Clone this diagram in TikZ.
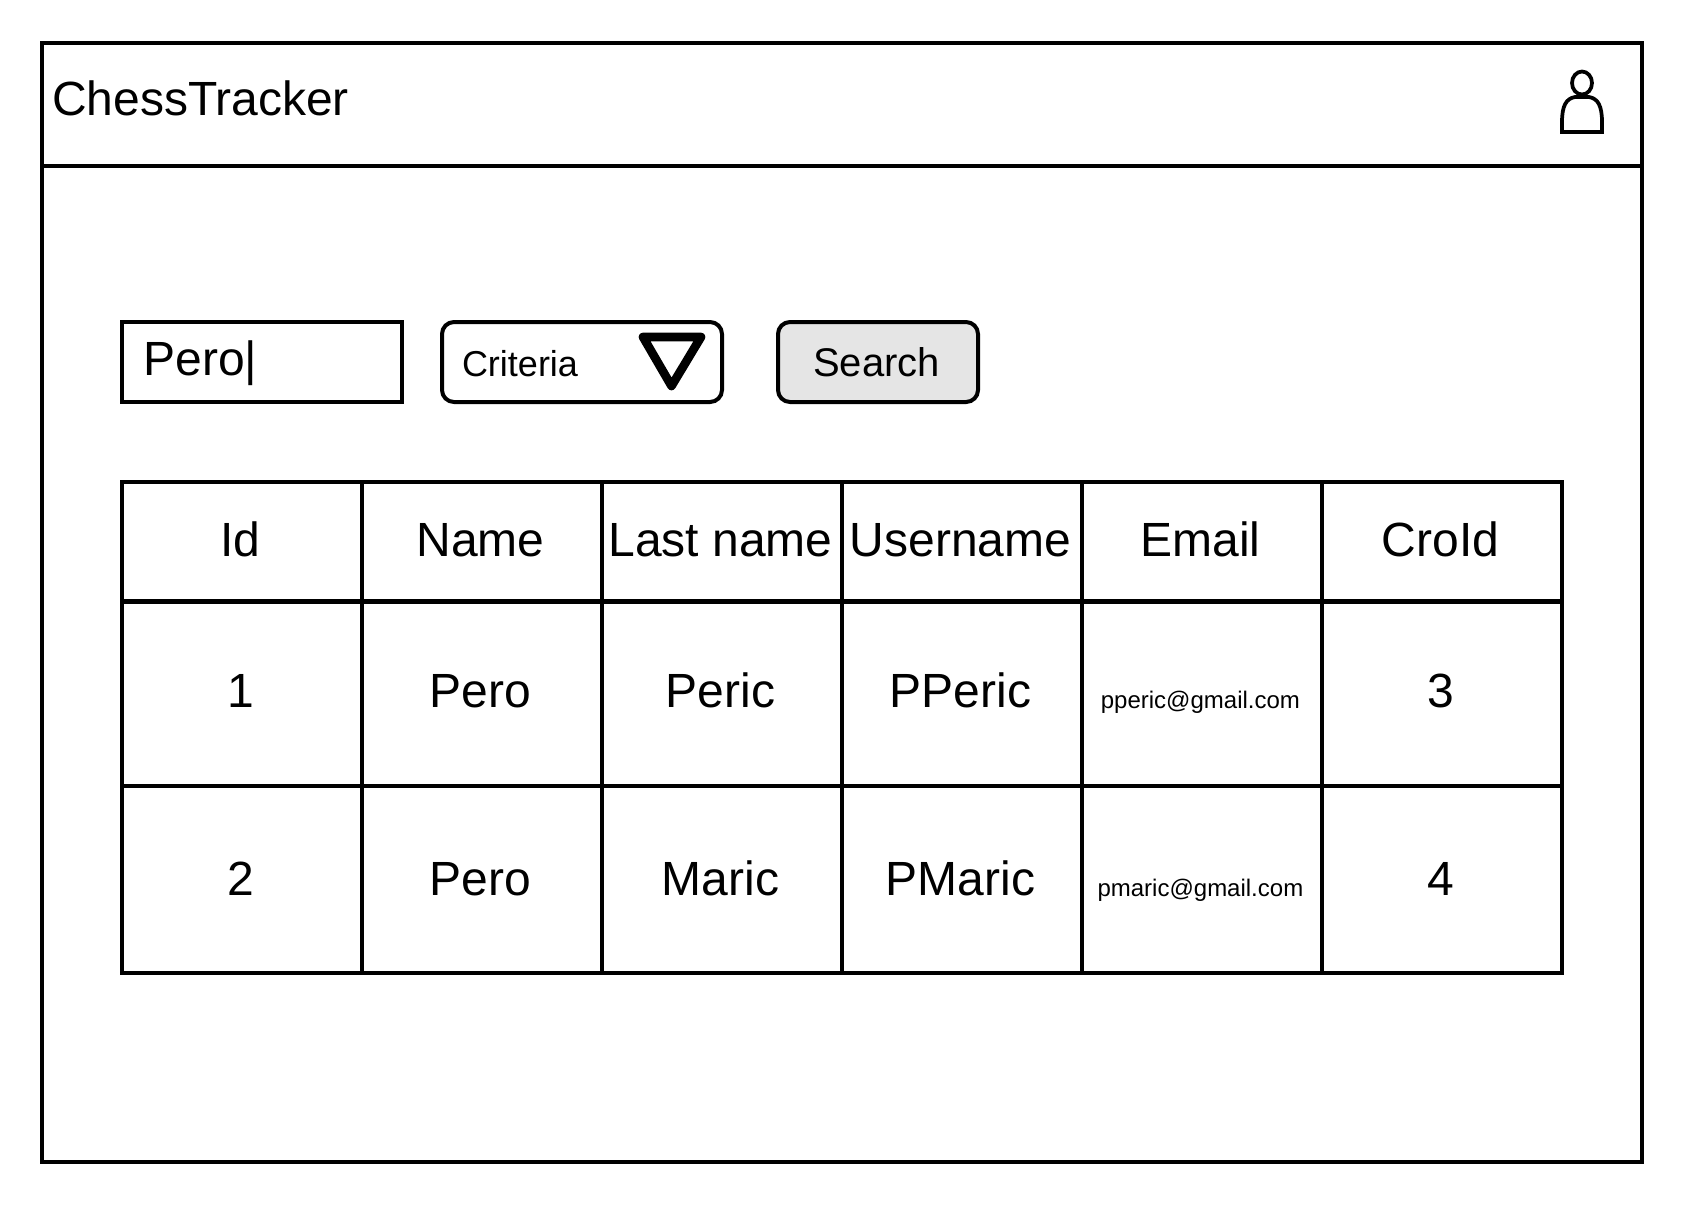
\documentclass[tikz,border=0pt]{standalone}
\usepackage{fontspec}
\setmainfont{Liberation Sans}
\newcommand{\fbig}{\fontsize{36}{42}\selectfont}
\newcommand{\fcrit}{\fontsize{27}{32}\selectfont}
\newcommand{\fsearch}{\fontsize{30}{36}\selectfont}
\newcommand{\fmail}{\fontsize{18}{22}\selectfont}
\tikzset{
  box/.style={draw=black,line width=3pt,inner sep=0pt,outer sep=0pt,anchor=north west},
  rbox/.style={box,rounded corners=9pt},
  label/.style={inner sep=0pt,outer sep=0pt,anchor=base,text=black},
  labelw/.style={label,anchor=base west},
  cell/.style={box,minimum width=180pt},
  head/.style={cell,minimum height=89.6pt},
  rowa/.style={cell,minimum height=138pt},
  rowb/.style={cell,minimum height=140.5pt},
}
\begin{document}
\begin{tikzpicture}[x=0.75pt,y=-0.75pt]
\useasboundingbox (0,0) rectangle (1688,1204);
\fill[white] (0,0) rectangle (1688,1204);
% frame
\node[box,minimum width=1200pt,minimum height=839.25pt] (frame) at (42,43) {};
\node[box,minimum width=1200pt,minimum height=92.6pt] (header) at (42,43) {};
\node[labelw] (title) at (52,115.5) {\fbig ChessTracker};
% user icon
\draw[line width=2.8pt] (1582,83) ellipse [x radius=10,y radius=11.5];
\draw[line width=2.8pt,line join=miter] (1562,132) -- (1562,122) .. controls (1562,106) and (1566,98.5) .. (1575,97) -- (1589,97) .. controls (1598,98.5) and (1602,106) .. (1602,122) -- (1602,132) -- cycle;
% controls
\node[box,minimum width=210pt,minimum height=60pt] (input) at (122,322) {};
\node[labelw] (pero) at (143.5,375) {\fbig Pero|};
\node[rbox,minimum width=210pt,minimum height=60pt] (combo) at (442,322) {};
\node[labelw] (crit) at (462,376) {\fcrit Criteria};
\draw[line width=6.5pt,line join=round] (643,337) -- (701,337) -- (671.5,386) -- cycle;
\node[rbox,fill=black!10,minimum width=150pt,minimum height=60pt] (search) at (778,322) {};
\node[label] (searchl) at (876.5,376) {\fsearch Search};
% table
\foreach \n/\x in {a/122,b/362,c/602,d/842,e/1082,f/1322}{
  \node[head] (h\n) at (\x,482) {};
  \node[rowa] (r\n) at (\x,601.5) {};
  \node[rowb] (s\n) at (\x,785.5) {};
}
\foreach \c/\t in {a/Id,b/Name,c/Last name,d/Username,e/Email,f/CroId}{
  \node[label] (th\c) at ([xshift=-1.2pt]h\c.center |- 0,556) {\fbig \t};
}
\foreach \c/\t in {a/1,b/Pero,c/Peric,d/PPeric,f/3}{
  \node[label] (ta\c) at ([xshift=-1.2pt]r\c.center |- 0,707.5) {\fbig \t};
}
\foreach \c/\t in {a/2,b/Pero,c/Maric,d/PMaric,f/4}{
  \node[label] (tb\c) at ([xshift=-1.2pt]s\c.center |- 0,895.5) {\fbig \t};
}
\node[label] (mailA) at ([xshift=-1.2pt]re.center |- 0,708) {\fmail pperic@gmail.com};
\node[label] (mailB) at ([xshift=-1.2pt]se.center |- 0,896) {\fmail pmaric@gmail.com};
\end{tikzpicture}
\end{document}
